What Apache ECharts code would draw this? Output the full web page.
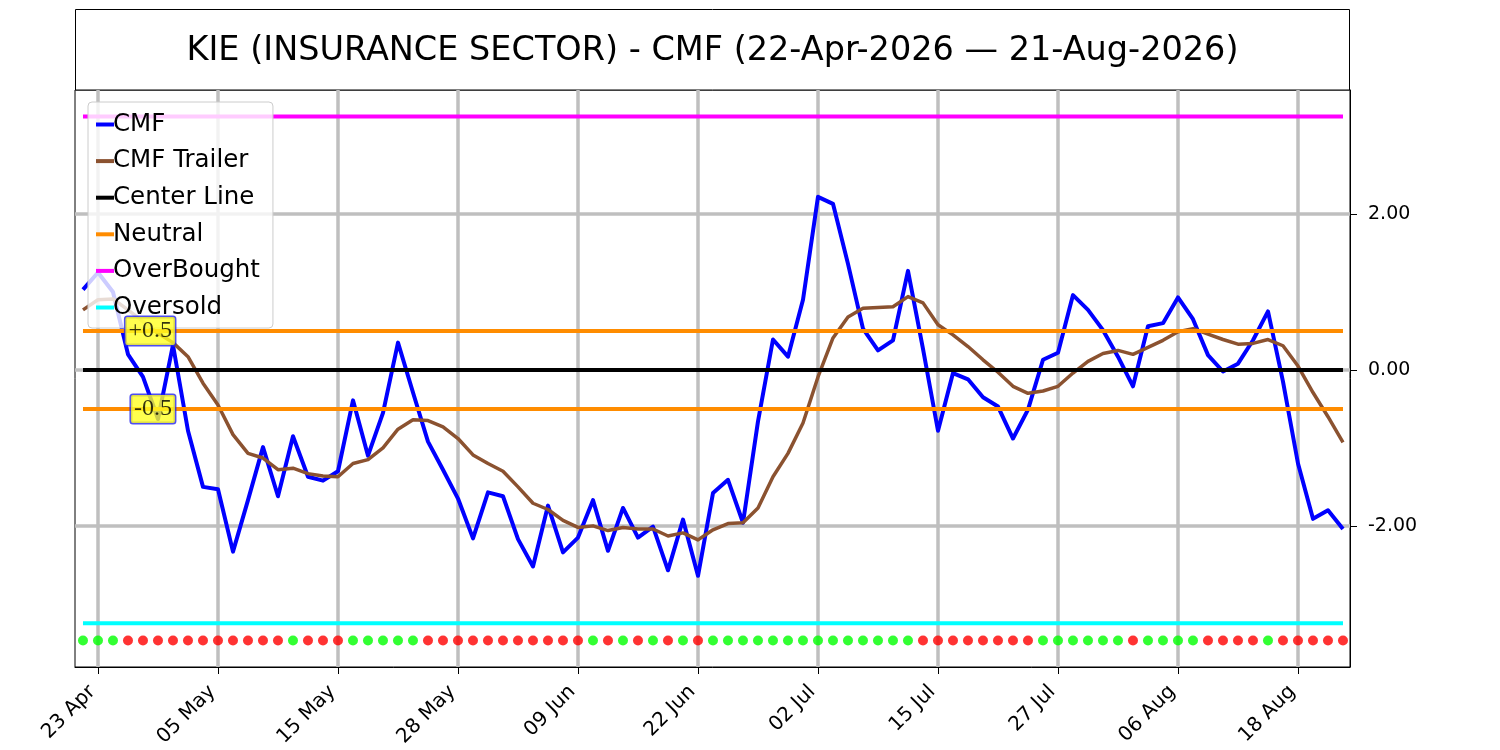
<!DOCTYPE html>
<html>
<head>
<meta charset="utf-8">
<script src="https://cdn.jsdelivr.net/npm/echarts@6/dist/echarts.min.js"></script>
<style>
html,body{margin:0;padding:0;background:#fff;}
#chart{width:1500px;height:750px;}
</style>
</head>
<body>
<div id="chart"></div>
<script>
// ---- data ----
const titleText = 'KIE (INSURANCE SECTOR) - CMF (22-Apr-2026 \u2014 21-Aug-2026)';
const dates = [
 '22 Apr','23 Apr','24 Apr','27 Apr','28 Apr','29 Apr','30 Apr','01 May','04 May','05 May',
 '06 May','07 May','08 May','11 May','12 May','13 May','14 May','15 May','18 May','19 May',
 '20 May','21 May','22 May','26 May','27 May','28 May','29 May','01 Jun','02 Jun','03 Jun',
 '04 Jun','05 Jun','08 Jun','09 Jun','10 Jun','11 Jun','12 Jun','15 Jun','16 Jun','17 Jun',
 '18 Jun','22 Jun','23 Jun','24 Jun','25 Jun','26 Jun','29 Jun','30 Jun','01 Jul','02 Jul',
 '06 Jul','07 Jul','08 Jul','09 Jul','10 Jul','13 Jul','14 Jul','15 Jul','16 Jul','17 Jul',
 '20 Jul','21 Jul','22 Jul','23 Jul','24 Jul','27 Jul','28 Jul','29 Jul','30 Jul','31 Jul',
 '03 Aug','04 Aug','05 Aug','06 Aug','07 Aug','10 Aug','11 Aug','12 Aug','13 Aug','14 Aug',
 '17 Aug','18 Aug','19 Aug','20 Aug','21 Aug'
];
const cmf = [
 1.03, 1.25, 1.00, 0.20, -0.09, -0.63, 0.32, -0.78, -1.50, -1.53,
 -2.33, -1.67, -0.99, -1.62, -0.85, -1.37, -1.42, -1.30, -0.39, -1.10,
 -0.55, 0.35, -0.29, -0.92, -1.28, -1.65, -2.16, -1.57, -1.62, -2.17,
 -2.52, -1.74, -2.34, -2.15, -1.67, -2.32, -1.77, -2.15, -2.01, -2.57,
 -1.92, -2.64, -1.58, -1.41, -1.96, -0.66, 0.39, 0.17, 0.90, 2.22,
 2.13, 1.36, 0.53, 0.25, 0.38, 1.27, 0.27, -0.78, -0.04, -0.12,
 -0.35, -0.47, -0.88, -0.51, 0.13, 0.22, 0.96, 0.77, 0.51, 0.17,
 -0.21, 0.56, 0.60, 0.93, 0.65, 0.19, -0.02, 0.08, 0.38, 0.75,
 -0.15, -1.20, -1.91, -1.80, -2.04
];
const cmfTrailer = [
 0.77, 0.90, 0.91, 0.77, 0.62, 0.47, 0.35, 0.17, -0.17, -0.45,
 -0.83, -1.07, -1.13, -1.28, -1.26, -1.33, -1.36, -1.37, -1.20, -1.15,
 -1.00, -0.76, -0.64, -0.65, -0.73, -0.88, -1.09, -1.20, -1.30, -1.50,
 -1.71, -1.79, -1.93, -2.02, -2.00, -2.06, -2.02, -2.04, -2.04, -2.13,
 -2.09, -2.18, -2.05, -1.97, -1.96, -1.77, -1.37, -1.07, -0.68, -0.09,
 0.41, 0.68, 0.79, 0.80, 0.81, 0.94, 0.86, 0.58, 0.45, 0.30,
 0.13, -0.03, -0.21, -0.30, -0.27, -0.21, -0.04, 0.11, 0.21, 0.25,
 0.20, 0.29, 0.38, 0.49, 0.53, 0.46, 0.39, 0.33, 0.34, 0.39,
 0.31, 0.05, -0.29, -0.60, -0.93
];
// 1 = green dot, 0 = red dot
const signal = [
 1,1,1,0,0,0,0,0,0,0, 0,0,0,0,1,0,0,0,1,1,
 1,1,1,0,0,0,0,0,0,0, 0,0,0,0,1,0,1,0,1,0,
 1,0,1,1,1,1,1,1,1,1, 1,1,1,1,1,1,0,0,0,0,
 0,0,0,0,1,1,1,1,1,1, 0,1,1,1,1,0,0,0,0,1,
 0,0,0,0,0
];
const tickIndex = [1, 9, 17, 25, 33, 41, 49, 57, 65, 73, 81];
const yTickValues = [-2, 0, 2];
const centerLevel = 0;
const neutralUpper = 0.5;
const neutralLower = -0.5;
const overBoughtLevel = 3.25;
const overSoldLevel = -3.25;
const signalRowLevel = -3.47;
const neutralLabels = ['+0.5', '-0.5'];
const legendNames = ['CMF', 'CMF Trailer', 'Center Line', 'Neutral', 'OverBought', 'Oversold'];

// ---- build ----
const firstIdx = 0, lastIdx = dates.length - 1;
const toPairs = arr => arr.map((v, i) => [i, v]);
const levelLine = v => [[firstIdx, v], [lastIdx, v]];

function lineSeries(name, data, color, width, z) {
  return {
    name, type: 'line', data, color,
    showSymbol: false, symbol: 'none',
    lineStyle: { color, width, cap: 'butt', join: 'round' },
    itemStyle: { color },
    emphasis: { disabled: true },
    z
  };
}

const chart = echarts.init(document.getElementById('chart'));
chart.setOption({
  animation: false,
  backgroundColor: '#ffffff',
  title: {
    text: titleText,
    left: 712.5, top: 51,
    textAlign: 'center', textVerticalAlign: 'middle',
    padding: 0,
    textStyle: { fontFamily: 'DejaVu Sans', fontSize: 33.5, fontWeight: 'normal', color: '#000' }
  },
  graphic: [{
    type: 'rect', z: 0,
    shape: { x: 75.5, y: 9.5, width: 1274, height: 80.5 },
    style: { fill: '#ffffff', stroke: '#000000', lineWidth: 1 }
  }],
  grid: {
    left: 75, right: 150, top: 90, bottom: 83,
    show: true, borderColor: '#000', borderWidth: 1, backgroundColor: '#fff'
  },
  legend: {
    data: legendNames,
    orient: 'vertical', left: 88, top: 102,
    icon: 'rect', itemWidth: 18, itemHeight: 4, itemGap: 9.6,
    padding: [9, 13, 7, 8],
    backgroundColor: 'rgba(255,255,255,0.8)',
    borderColor: '#cccccc', borderWidth: 1, borderRadius: 4,
    textStyle: { fontFamily: 'DejaVu Sans', fontSize: 24.5, color: '#000', lineHeight: 27, padding: [0, 0, 0, -6] },
    selectedMode: false,
    z: 8
  },
  xAxis: {
    type: 'value', min: -0.533, max: 84.467,
    axisLine: { show: true, onZero: false, lineStyle: { color: '#000', width: 1 } },
    axisTick: { show: true, customValues: tickIndex, length: 7, lineStyle: { color: '#000', width: 1 } },
    axisLabel: {
      customValues: tickIndex, rotate: 45, margin: 16,
      padding: [0, 8, 0, 0],
      formatter: v => dates[Math.round(v)],
      fontFamily: 'DejaVu Sans', fontSize: 20, color: '#000'
    },
    splitLine: { show: true, lineStyle: { color: '#bfbfbf', width: 3.5 } }
  },
  yAxis: {
    type: 'value', position: 'right', min: -3.81, max: 3.59,
    axisLine: { show: true, onZero: false, lineStyle: { color: '#000', width: 1 } },
    axisTick: { show: true, customValues: yTickValues, length: 7, lineStyle: { color: '#000', width: 1 } },
    axisLabel: {
      customValues: yTickValues, margin: 18,
      formatter: v => v.toFixed(2),
      fontFamily: 'DejaVu Sans', fontSize: 19, color: '#000'
    },
    splitLine: { show: true, lineStyle: { color: '#bfbfbf', width: 3.5 } }
  },
  series: [
    lineSeries('CMF', toPairs(cmf), '#0000ff', 4, 3),
    lineSeries('CMF Trailer', toPairs(cmfTrailer), '#8b5230', 3.5, 4),
    lineSeries('Center Line', levelLine(centerLevel), '#000000', 4, 5),
    lineSeries('Neutral', levelLine(neutralUpper), '#ff8c00', 4, 5),
    lineSeries('Neutral', levelLine(neutralLower), '#ff8c00', 4, 5),
    lineSeries('OverBought', levelLine(overBoughtLevel), '#ff00ff', 4, 5),
    lineSeries('Oversold', levelLine(overSoldLevel), '#00ffff', 4, 5),
    {
      name: 'Signal', type: 'scatter', symbolSize: 10, z: 6,
      data: signal.map((s, i) => [i, signalRowLevel, s]),
      itemStyle: { color: p => (p.data[2] ? '#00ff00' : '#ff0000') },
      emphasis: { disabled: true }
    },
    {
      name: 'NeutralLabels', type: 'scatter', symbolSize: 0, z: 30, zlevel: 0,
      data: [[6.13, neutralUpper, neutralLabels[0]], [6.13, neutralLower, neutralLabels[1]]],
      label: {
        show: true, position: 'left', distance: 0,
        formatter: p => p.data[2],
        fontFamily: 'Liberation Serif', fontSize: 24, color: '#000',
        backgroundColor: '#ffff22', borderColor: '#2222ee', borderWidth: 1.5, borderRadius: 2,
        padding: [3, 3, 1, 3]
      },
      emphasis: { disabled: true }
    }
  ]
});
</script>
</body>
</html>
